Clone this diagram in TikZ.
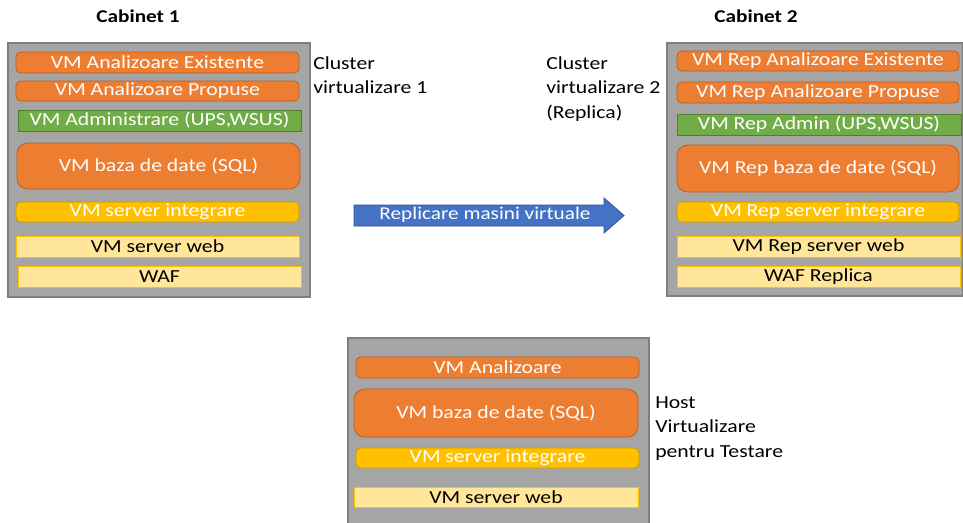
\documentclass[tikz,border=0pt]{standalone}
\usepackage{fontspec}
\setmainfont{Carlito}[FakeStretch=1.18]
\definecolor{vmorange}{HTML}{ED7D31}
\definecolor{vmorangeline}{HTML}{B85F22}
\definecolor{vmgreen}{HTML}{70AD47}
\definecolor{vmgreenline}{HTML}{507E32}
\definecolor{vmyellow}{HTML}{FFC000}
\definecolor{vmyellowline}{HTML}{C99700}
\definecolor{vmlight}{HTML}{FFE699}
\definecolor{vmlightline}{HTML}{FFC000}
\definecolor{rackgray}{HTML}{A5A5A5}
\definecolor{rackline}{HTML}{7F7F7F}
\definecolor{arrowblue}{HTML}{4472C4}
\definecolor{arrowline}{HTML}{2F528F}

% one box from corner (x1,y1) to corner (x2,y2), in pixel units
\newcommand\vmbox[7]{%
  \node[#6, minimum width={(#4-#2)*0.75pt}, minimum height={(#5-#3)*0.75pt}]
    (#1) at ({(#2+#4)/2},{(#3+#5)/2}) {#7};}

\tikzset{
  boxbase/.style={inner sep=0pt, font=\fontsize{13.8}{16}\selectfont, line width=0.6pt},
  orangebox/.style={boxbase, rounded corners=3.5pt, fill=vmorange, draw=vmorangeline, text=white},
  dbbox/.style={boxbase, rounded corners=8pt, fill=vmorange, draw=vmorangeline, text=white},
  greenbox/.style={boxbase, fill=vmgreen, draw=vmgreenline, text=white},
  yellowbox/.style={boxbase, rounded corners=3.5pt, fill=vmyellow, draw=vmyellowline, text=white},
  lightbox/.style={boxbase, fill=vmlight, draw=vmlightline, text=black},
  rack/.style={inner sep=0pt, fill=rackgray, draw=rackline, line width=0.8pt},
  caption/.style={inner sep=0pt, anchor=north west, align=left,
    font=\fontsize{13.8}{18.6}\selectfont},
  title/.style={inner sep=0pt, font=\fontsize{13.5}{16}\selectfont\bfseries},
}

\begin{document}
\begin{tikzpicture}[x=0.75pt, y=-0.75pt]
\useasboundingbox (0,0) rectangle (963,522);
\clip (0,0) rectangle (963,522);
\fill[white] (0,0) rectangle (963,522);

% titles
\node[title] (t1) at (138,16) {Cabinet 1};
\node[title] (t2) at (756,16) {Cabinet 2};

% cabinet 1
\vmbox{cab1}{8}{43}{310}{297}{rack}{}
\vmbox{a1}{16}{52}{299}{73}{orangebox}{VM Analizoare Existente}
\vmbox{a2}{16}{81}{299}{101}{orangebox}{VM Analizoare Propuse}
\vmbox{a3}{18}{110}{301}{131}{greenbox}{VM Administrare (UPS,WSUS)}
\vmbox{a4}{17}{143}{300}{189}{dbbox}{VM baza de date (SQL)}
\vmbox{a5}{16}{202}{299}{222}{yellowbox}{VM server integrare}
\vmbox{a6}{16}{236}{299}{257}{lightbox}{VM server web}
\vmbox{a7}{18}{266}{301}{287}{lightbox}{WAF}

% cabinet 2
\vmbox{cab2}{667}{43}{962.5}{296}{rack}{}
\vmbox{b1}{677}{51}{959}{71}{orangebox}{VM Rep Analizoare Existente}
\vmbox{b2}{677}{82}{959}{103}{orangebox}{VM Rep Analizoare Propuse}
\vmbox{b3}{677}{114}{961}{135}{greenbox}{VM Rep Admin (UPS,WSUS)}
\vmbox{b4}{677}{145}{959}{192}{dbbox}{VM Rep baza de date (SQL)}
\vmbox{b5}{677}{202}{959}{222}{yellowbox}{VM Rep server integrare}
\vmbox{b6}{677}{236}{960}{257}{lightbox}{VM Rep server web}
\vmbox{b7}{677}{266}{960}{287}{lightbox}{WAF Replica}

% test host
\vmbox{host}{348}{338}{649}{530}{rack}{}
\vmbox{c1}{356}{357}{639}{378}{orangebox}{VM Analizoare}
\vmbox{c2}{354}{389}{638}{437}{dbbox}{VM baza de date (SQL)}
\vmbox{c3}{356}{448}{639}{468}{yellowbox}{VM server integrare}
\vmbox{c4}{354}{487}{638}{507}{lightbox}{VM server web}

% side captions
\node[caption] (l1) at (313,56) {Cluster\\virtualizare 1};
\node[caption] (l2) at (546,56) {Cluster\\virtualizare 2\\(Replica)};
\node[caption] (l3) at (655,396) {Host\\Virtualizare\\pentru Testare};

% replication arrow
\draw[fill=arrowblue, draw=arrowline, line width=0.6pt]
  (354,205) -- (604,205) -- (604,198) -- (624,215.5) -- (604,233)
  -- (604,226) -- (354,226) -- cycle;
\node[inner sep=0pt, text=white, font=\fontsize{13.5}{16}\selectfont]
  (rep) at (485,215) {Replicare masini virtuale};
\end{tikzpicture}
\end{document}
